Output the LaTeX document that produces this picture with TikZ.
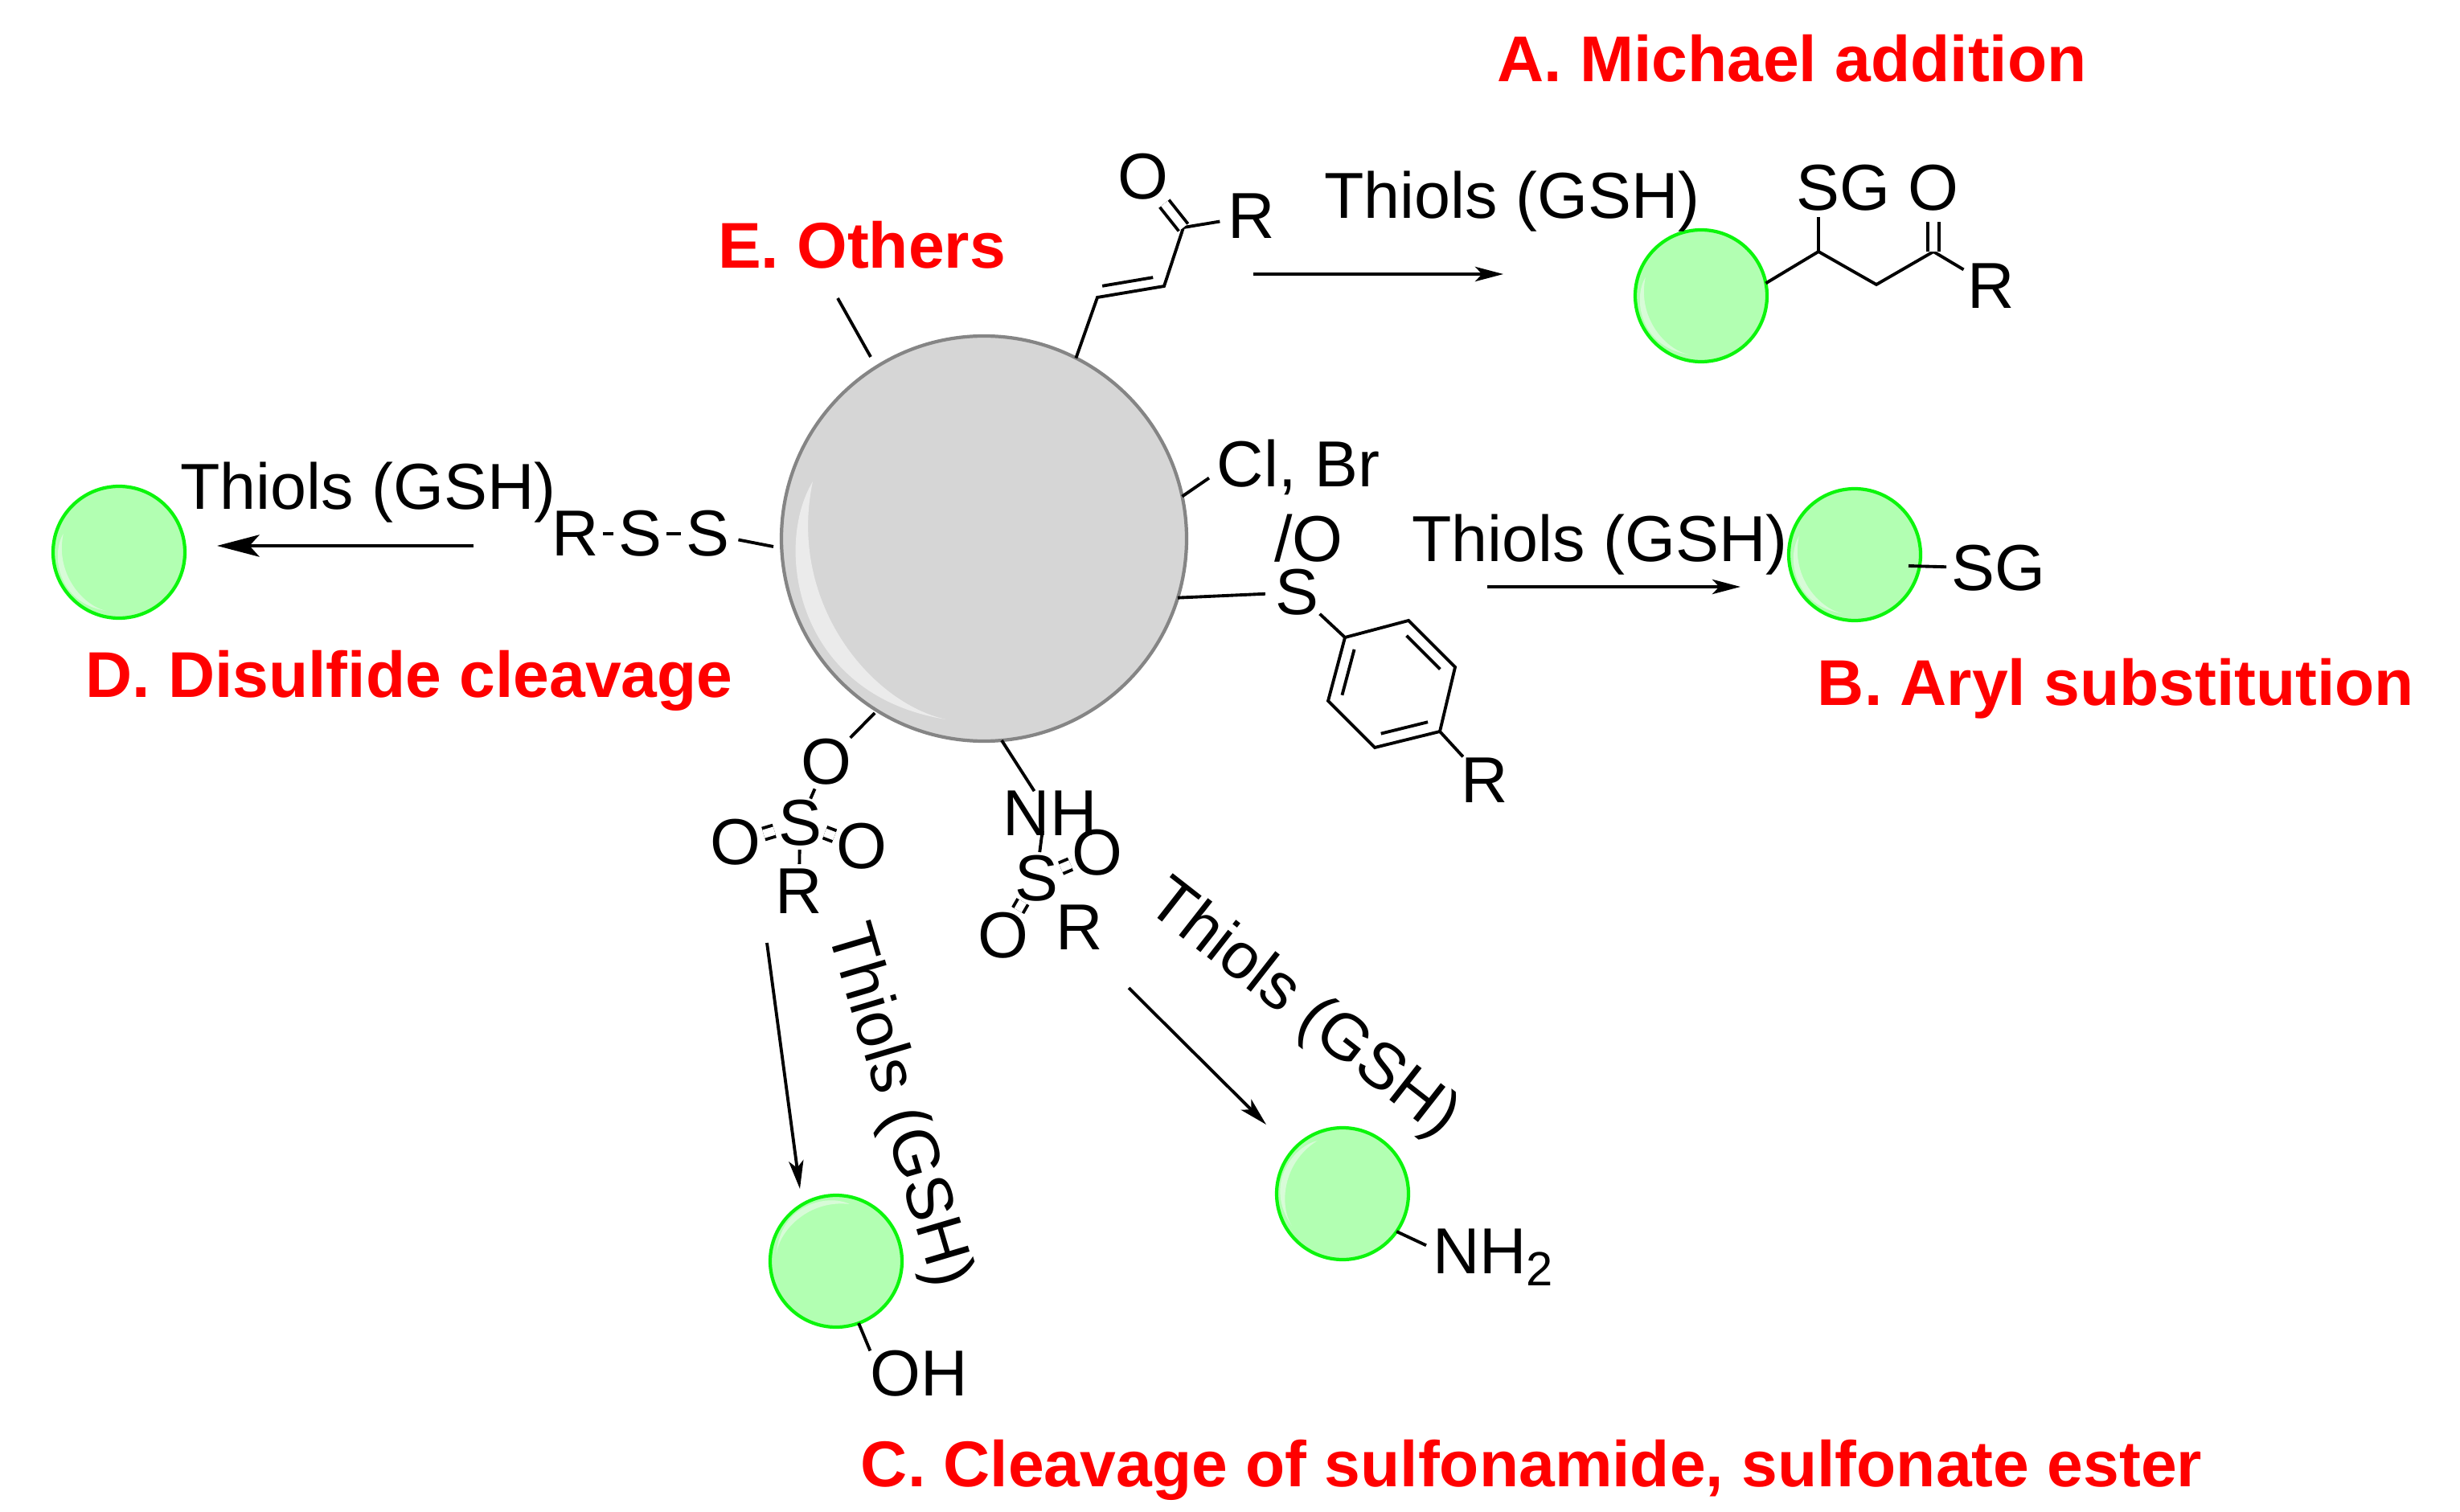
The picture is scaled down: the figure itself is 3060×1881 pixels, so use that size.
\documentclass[tikz,border=0pt]{standalone}
\usepackage{fontspec}
\setmainfont{Liberation Sans}
\usetikzlibrary{arrows.meta,calc}
\definecolor{beadfill}{HTML}{B2FFB2}
\definecolor{beadline}{HTML}{0CF50C}
\definecolor{beadshine}{HTML}{D8FBD8}
\definecolor{corefill}{HTML}{D6D6D6}
\definecolor{coreline}{HTML}{858585}
\definecolor{coreshine}{HTML}{EBEBEB}
\begin{document}
\begin{tikzpicture}[
    x=0.1mm,
    y=-0.1mm,
    every node/.style={
        font=\fontsize{23}{27}\selectfont,
        inner sep=0pt,
        outer sep=0pt
    },
    atom/.style={circle},
    reagent/.style={anchor=center},
    tag/.style={
        anchor=base,
        text=red,
        font=\fontsize{22.9}{27}\selectfont\bfseries
    },
    bead/.style={
        circle,
        draw=beadline,
        fill=beadfill,
        line width=1.2pt,
        minimum size=16.4mm
    },
    core/.style={
        circle,
        draw=coreline,
        fill=corefill,
        line width=1.2pt,
        minimum size=50.4mm
    },
    bond/.style={draw=black, line width=1.1pt},
    dbond/.style={bond, double, double distance=3pt},
    stub/.style={shorten <=-0.6mm, shorten >=-0.6mm},
    rxn/.style={
        draw=black,
        line width=1.1pt,
        -{Stealth[length=10pt,width=5.2pt,inset=2.5pt]}
    },
    rxnbig/.style={
        draw=black,
        line width=1.1pt,
        -{Stealth[length=15pt,width=7.8pt,inset=3.5pt]}
    }
]
\useasboundingbox (0,0) rectangle (3060,1881);

% Central particle with its highlight
\node[core] (np) at (1224,670) {};
\fill[coreshine] (1011,599) .. controls (962,680) and (989,865) .. (1177,895)
    .. controls (1084,875) and (979,750) .. (1011,599);

% Product beads, listed as name/x/y/turn of the highlight
\foreach \beadname/\px/\py/\turn in {
    ba/2116/368/0,
    bb/2307/690/0,
    bc/1040/1569/-85,
    bn/1670/1485/-46,
    bd/148/687/0
}{
    \node[bead] (\beadname) at (\px,\py) {};
    \begin{scope}[shift={(\px,\py)},rotate=\turn,scale=0.325]
        \fill[beadshine] (-213,-71) .. controls (-262,10) and (-235,195) .. (-47,225)
            .. controls (-140,205) and (-245,80) .. (-213,-71);
    \end{scope}
}

% Section titles
\node[tag] (ta) at (2229,102) {A. Michael addition};
\node[tag] (tb) at (2632,877) {B. Aryl substitution};
\node[tag] (tc) at (1905,1849) {C. Cleavage of sulfonamide, sulfonate ester};
\node[tag] (td) at (509,867) {D. Disulfide cleavage};
\node[tag] (te) at (1072,334) {E. Others};

% Reagent over each arrow
\node[reagent] (ra) at (1881,251) {Thiols (GSH)};
\node[reagent] (rb) at (1990,678) {Thiols (GSH)};
\node[reagent,rotate=-73.5] (rc) at (1116,1376) {Thiols (GSH)};
\node[reagent,rotate=-38] (rn) at (1620,1257) {Thiols (GSH)};
\node[reagent] (rd) at (458,613) {Thiols (GSH)};

% Arrow ends
\coordinate (a1) at (1559,341);
\coordinate (a2) at (1870,341);
\coordinate (b1) at (1850,730);
\coordinate (b2) at (2165,730);
\coordinate (c1) at (954,1173);
\coordinate (c2) at (995,1479);
\coordinate (n1) at (1404,1229);
\coordinate (n2) at (1575,1399);
\coordinate (d1) at (589,679);
\coordinate (d2) at (270,679);
\foreach \from/\to in {a1/a2,b1/b2,c1/c2,n1/n2}{
    \draw[rxn] (\from) -- (\to);
}
\draw[rxnbig] (d1) -- (d2);

% A: enone on the particle
\coordinate (ea) at (1365,370);
\coordinate (eb) at (1448,356);
\coordinate (ec) at (1472,283);
\node[atom] (eo) at (1422,220) {O};
\node[atom] (er) at (1557,269) {R};
\draw[bond] (np.63) -- (ea) -- (eb) -- (ec) -- (er);
\draw[dbond] (ec) -- (eo);
\draw[bond] ($(ea)!.1!(eb)!1.3mm!90:(eb)$) -- ($(eb)!.14!(ea)!1.3mm!-90:(ea)$);

% A: product
\coordinate (pa) at (2262,313);
\coordinate (pb) at (2334,354);
\coordinate (pc) at (2405,313);
\node[atom] (psg) at (2293,234) {SG};
\node[atom] (po) at (2405,234) {O};
\node[atom] (pr) at (2477,356) {R};
\coordinate (psgb) at (2262,270);
\draw[bond] (ba.11) -- (pa) -- (pb) -- (pc) -- (pr);
\draw[bond] (pa) -- (psgb);
\draw[dbond] (pc) -- (po);

% B: halide and sulfoxide aryl
\node[outer sep=1mm] (clbr) at (1615,581) {Cl, Br};
\draw[bond] (np.12) -- (clbr.187);
\node[atom] (ss) at (1613,737) {S};
\node (so) at (1628,670) {/O};
\draw[bond] (np.-17.6) -- (ss);
\coordinate (ra1) at (1673,793);
\coordinate (ra2) at (1752,772);
\coordinate (ra3) at (1810,830);
\coordinate (ra4) at (1791,910);
\coordinate (ra5) at (1710,930);
\coordinate (ra6) at (1652,872);
\node[atom] (sr) at (1847,971) {R};
\draw[bond] (ss) -- (ra1);
\draw[bond] (ra1) -- (ra2) -- (ra3) -- (ra4) -- (ra5) -- (ra6) -- cycle;
\draw[bond] (ra4) -- (sr);
\foreach \from/\to in {ra2/ra3,ra4/ra5,ra6/ra1}{
    \draw[bond] ($(\from)!.14!(\to)!1.5mm!-90:(\to)$) -- ($(\to)!.14!(\from)!1.5mm!90:(\from)$);
}

% B: product
\coordinate (bbs) at (2374,704);
\node[atom] (bsg) at (2486,707) {SG};
\draw[bond] (bbs) -- (bsg);

% C: sulfonate
\coordinate (coe) at (1088,887);
\node[atom] (co) at (1028,948) {O};
\node[atom] (cs) at (995,1024) {S};
\node[atom] (col) at (915,1048) {O};
\node[atom] (cor) at (1072,1053) {O};
\node[atom] (cr) at (994,1109) {R};
\draw[bond] (coe) -- (co);
\draw[bond,stub] (co) -- (cs);
\draw[bond,stub] (cs) -- (cr);
\draw[dbond,stub] (cs) -- (col);
\draw[dbond,stub] (cs) -- (cor);

% C: sulfonamide
\node (nh) at (1306,1012) {NH};
\node[atom] (ns) at (1289,1093) {S};
\node[atom] (nor) at (1365,1061) {O};
\node[atom] (nol) at (1248,1164) {O};
\node[atom] (nr) at (1343,1154) {R};
\draw[bond] (np.-85) -- (nh.125);
\draw[bond,stub] (ns) -- (nh.250);
\draw[dbond,stub] (ns) -- (nor);
\draw[dbond,stub] (ns) -- (nol);

% C: products
\node (coh) at (1143,1709) {OH};
\draw[bond] (bc.-70) -- (coh.north west);
\node[anchor=base west,outer sep=.8mm] (nhb) at (1774,1584) {NH\raisebox{-4.4pt}{\fontsize{17}{20}\selectfont 2}};
\draw[bond] (bn.-35) -- (nhb.170);

% D: disulfide
\coordinate (dse) at (962,680);
\node[atom] (dr) at (716,664) {R};
\node[atom] (dsa) at (796,664) {S};
\node[atom] (dsb) at (880,664) {S};
\draw[bond,stub] (dr) -- (dsa);
\draw[bond,stub] (dsa) -- (dsb);
\draw[bond] (dsb) -- (dse);

% E: others
\coordinate (eo1) at (1042,371);
\coordinate (eo2) at (1083,444);
\draw[bond] (eo1) -- (eo2);
\end{tikzpicture}
\end{document}
